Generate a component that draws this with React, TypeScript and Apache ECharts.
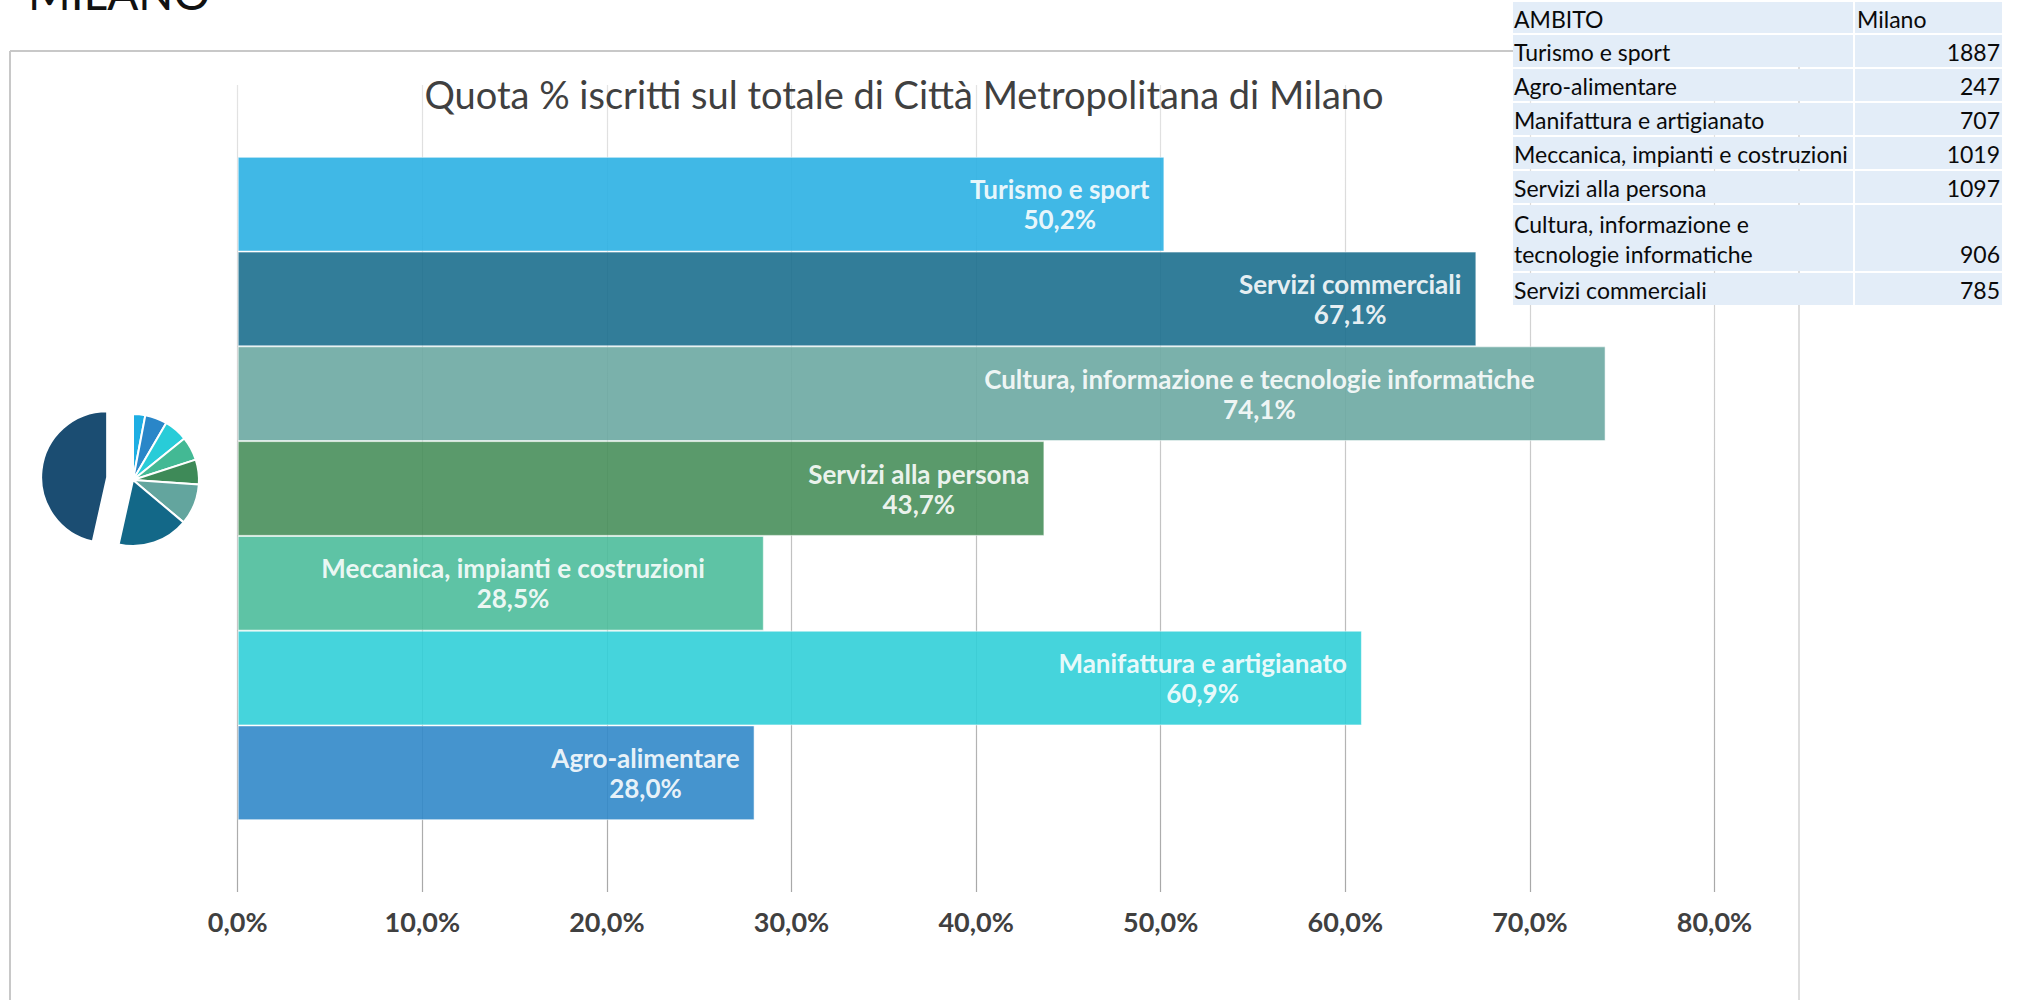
import React, { useEffect, useRef } from 'react';
import * as echarts from 'echarts';

// ---- DATA ----
const pageTitle = 'MILANO';
const chartTitle = 'Quota % iscritti sul totale di Città Metropolitana di Milano';
const categories = [
  'Turismo e sport',
  'Servizi commerciali',
  'Cultura, informazione e tecnologie informatiche',
  'Servizi alla persona',
  'Meccanica, impianti e costruzioni',
  'Manifattura e artigianato',
  'Agro-alimentare',
];
const shares = [50.2, 67.1, 74.1, 43.7, 28.5, 60.9, 28.0];
const axisMin = 0;
const axisMax = 80;
const axisStep = 10;

const tableHeader = ['AMBITO', 'Milano'];
const tableNames = [
  'Turismo e sport',
  'Agro-alimentare',
  'Manifattura e artigianato',
  'Meccanica, impianti e costruzioni',
  'Servizi alla persona',
  'Cultura, informazione e\ntecnologie informatiche',
  'Servizi commerciali',
];
const tableValues = [1887, 247, 707, 1019, 1097, 906, 785];

const pieValues = [3.0, 5.4, 5.8, 5.8, 6.1, 10.0, 17.4, 46.5];

// ---- STYLE ----
const FONT = "Lato, 'Noto Sans', sans-serif";
const barColors = ['#2bb0e3', '#1c6f8e', '#6ba8a2', '#488f5b', '#4cbd9b', '#31cfd8', '#3188c9'];
const labelShift = [0, 0, 56, 0, 44, 0, 0];
const pieColors = ['#1eaee3', '#2a86c8', '#28ccd8', '#43b994', '#3e8a58', '#63a59e', '#136888', '#1b4d72'];
const LABEL_SIZE = 26;

const fmtPct = (v: number) => v.toFixed(1).replace('.', ',') + '%';

export default function App() {
  const ref = useRef<HTMLDivElement>(null);

  useEffect(() => {
    if (!ref.current) return;
    const chart = echarts.init(ref.current, null, { renderer: 'svg' });

    const ctx = document.createElement('canvas').getContext('2d')!;
    ctx.font = `bold ${LABEL_SIZE}px ${FONT}`;

    const barSeries = categories.map((name, i) => {
      const valText = fmtPct(shares[i]);
      const w = Math.max(ctx.measureText(name).width, ctx.measureText(valText).width);
      return {
        type: 'bar',
        name,
        data: [shares[i]],
        barGap: '0%',
        barCategoryGap: '17.8%',
        silent: true,
        itemStyle: {
          color: barColors[i],
          opacity: 0.9,
          borderColor: 'rgba(255,255,255,0.6)',
          borderWidth: 1,
        },
        label: {
          show: true,
          position: 'insideRight',
          distance: 15,
          align: 'center',
          verticalAlign: 'middle',
          offset: [-(w / 2) - labelShift[i], 0],
          formatter: `${name}\n${valText}`,
          color: '#ffffff',
          fontFamily: FONT,
          fontWeight: 'bold',
          fontSize: LABEL_SIZE,
          lineHeight: 30,
        },
      };
    });

    // table graphic
    const tX0 = 1513, tXdiv = 1853, tX1 = 2002, gap = 2, unit = 32;
    const tableEls: any[] = [];
    const cellFill = '#e3edf8';
    const tFont = `23px ${FONT}`;
    let top = 2;
    const rows = [{ name: tableHeader[0], value: tableHeader[1], header: true }].concat(
      tableNames.map((n, i) => ({ name: n, value: String(tableValues[i]), header: false }))
    );
    rows.forEach((r) => {
      const lines = r.name.split('\n').length;
      const h = r.header ? 31 : lines * unit + (lines - 1) * 2;
      tableEls.push({ type: 'rect', z: 100, shape: { x: tX0, y: top, width: tXdiv - tX0, height: h }, style: { fill: cellFill } });
      tableEls.push({ type: 'rect', z: 100, shape: { x: tXdiv + gap, y: top, width: tX1 - tXdiv - gap, height: h }, style: { fill: cellFill } });
      const c = top + h / 2 + 1;
      tableEls.push({
        type: 'text', z: 101, x: tX0 + 1, y: c,
        style: { text: r.name, font: tFont, fill: '#0a0a0a', align: 'left', verticalAlign: 'middle', lineHeight: 30 },
      });
      tableEls.push({
        type: 'text', z: 101,
        x: r.header ? tXdiv + 4 : tX1 - 2,
        y: lines > 1 ? c + 15 : c,
        style: { text: r.value, font: tFont, fill: '#0a0a0a', align: r.header ? 'left' : 'right', verticalAlign: 'middle' },
      });
      top += h + gap;
    });

    const option: any = {
      animation: false,
      backgroundColor: '#ffffff',
      grid: { left: 237.7, right: 311.5, top: 85, bottom: 108, containLabel: false },
      xAxis: {
        type: 'value',
        min: axisMin,
        max: axisMax,
        interval: axisStep,
        axisLine: { show: false },
        axisTick: { show: false },
        splitLine: {
          show: true,
          lineStyle: {
            width: 1.2,
            color: new echarts.graphic.LinearGradient(0, 85, 0, 892, [
              { offset: 0, color: '#e4e4e4' },
              { offset: 1, color: '#a8a8a8' },
            ], true),
          },
        },
        axisLabel: {
          formatter: (v: number) => fmtPct(v),
          color: '#404040',
          fontFamily: FONT,
          fontWeight: 'bold',
          fontSize: 27,
          margin: 16,
        },
      },
      yAxis: { type: 'category', data: [''], show: false },
      series: [
        ...barSeries,
        {
          type: 'pie',
          center: [133, 480],
          radius: 66,
          startAngle: 90,
          clockwise: true,
          selectedMode: 'single',
          selectedOffset: 26,
          label: { show: false },
          labelLine: { show: false },
          emphasis: { disabled: true },
          itemStyle: { borderColor: '#ffffff', borderWidth: 2 },
          data: pieValues.map((v, i) => ({
            value: v,
            name: 'fetta ' + (i + 1),
            selected: i === pieValues.length - 1,
            itemStyle: { color: pieColors[i] },
          })),
        },
      ],
      graphic: [
        { type: 'line', z: 0, shape: { x1: 10, y1: 51, x2: 1799, y2: 51 }, style: { stroke: '#c8c8c8', lineWidth: 2 } },
        { type: 'line', z: 0, shape: { x1: 10, y1: 51, x2: 10, y2: 1000 }, style: { stroke: '#c8c8c8', lineWidth: 2 } },
        { type: 'line', z: 0, shape: { x1: 1799, y1: 51, x2: 1799, y2: 1000 }, style: { stroke: '#c8c8c8', lineWidth: 1.2 } },
        {
          type: 'text', z: 5, x: 28, y: -8,
          style: { text: pageTitle, font: `46px ${FONT}`, fill: '#111', align: 'left', verticalAlign: 'middle' },
        },
        {
          type: 'text', z: 5, x: 904, y: 94,
          style: { text: chartTitle, font: `38px ${FONT}`, fill: '#404040', align: 'center', verticalAlign: 'middle' },
        },
        ...tableEls,
      ],
    };

    chart.setOption(option);
    return () => chart.dispose();
  }, []);

  return (
    <div
      ref={ref}
      style={{ position: 'fixed', left: 0, top: 0, width: 2026, height: 1000, background: '#fff' }}
    />
  );
}
